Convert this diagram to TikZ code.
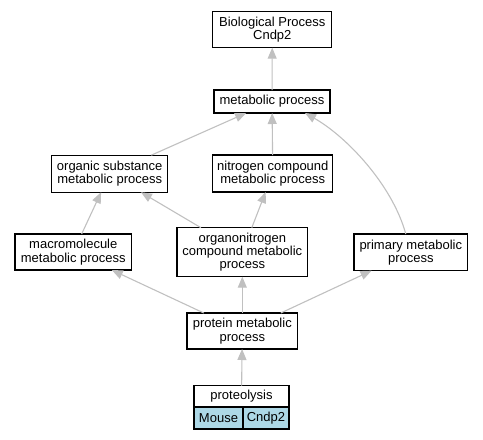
\documentclass[tikz,border=0pt]{standalone}
\usepackage{fontspec}
\setmainfont{Liberation Sans}
\usetikzlibrary{arrows.meta, positioning}
\definecolor{edgegray}{HTML}{C0C0C0}
\definecolor{cellblue}{HTML}{ADD8E6}
\tikzstyle{block} = [draw, fill=white, rectangle, line width=1.2pt,
    inner sep=0pt, outer sep=0pt, align=center,
    font=\fontsize{13}{13.3}\selectfont,
    minimum width=116pt, minimum height=36pt]
\tikzstyle{cell} = [block, fill=cellblue, minimum height=22pt]
\tikzstyle{edge} = [draw=edgegray, line width=1.1pt,
    -{Triangle[length=11pt,width=9pt]}]

\begin{document}
\begin{tikzpicture}[x=1pt, y=-1pt]
    \useasboundingbox (0,0) rectangle (483,440);
    \node [block, minimum width=119pt] (bio) at (272.3,29.7) {Biological Process\\Cndp2};
    \node [block, minimum height=23pt] (met) at (272,101.5) {metabolic process};
    \node [block, minimum height=37pt] (org) at (109.7,173.7) {organic substance\\metabolic process};
    \node [block, minimum width=120pt, minimum height=37pt] (nit) at (272.8,173.5) {nitrogen compound\\metabolic process};
    \node [block, minimum width=116.7pt] (mac) at (73.3,252) {macromolecule\\metabolic process};
    \node [block, minimum width=130.7pt, minimum height=49pt] (orn) at (242.3,252.2) {organonitrogen\\compound metabolic\\process};
    \node [block, minimum width=113.7pt, minimum height=36.7pt] (pri) at (410.8,252.3) {primary metabolic\\process};
    \node [block, minimum width=110.7pt] (pro) at (242.3,331) {protein metabolic\\process};
    \node [block, minimum width=95pt, minimum height=21.3pt] (prot) at (241.5,396.3) {proteolysis};
    \node [cell, anchor=north west, minimum width=49pt] (mouse) at (prot.south west) {Mouse};
    \node [cell, right=0pt of mouse, minimum width=46pt] (gene) {Cndp2};
    \draw [edge] (met) -- (bio);
    \draw [edge] (org) -- (met);
    \draw [edge] (nit) -- (met);
    \draw [edge] ([xshift=-5pt]pri.north) .. controls (392,184) and (345.7,136) .. ([xshift=33pt]met.south);
    \draw [edge] (mac) -- (org);
    \draw [edge] (orn) -- (org);
    \draw [edge] (orn) -- (nit);
    \draw [edge] (pro) -- (mac);
    \draw [edge] (pro) -- (orn);
    \draw [edge] (pro) -- (pri);
    \draw [edge] (prot) -- (pro);
\end{tikzpicture}
\end{document}
